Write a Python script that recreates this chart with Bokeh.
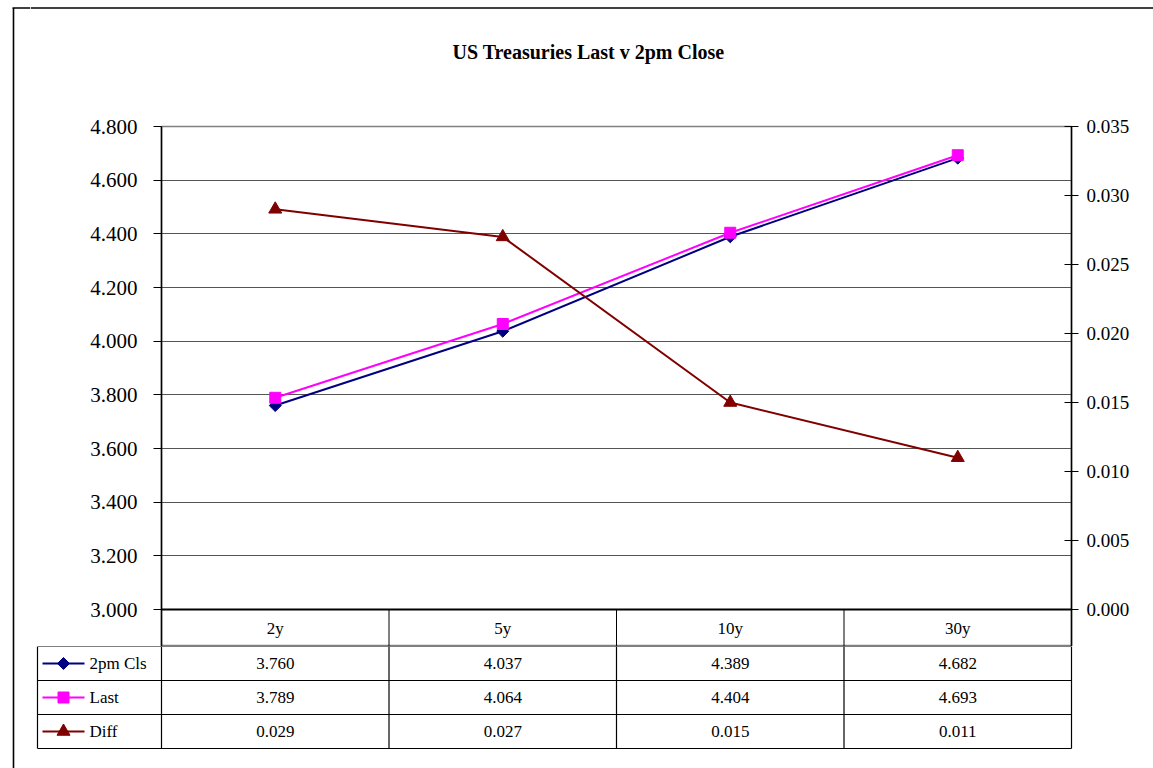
from bokeh.plotting import figure
from bokeh.layouts import column, row
from bokeh.models import Range1d, LinearAxis, FixedTicker, NumeralTickFormatter, Span
from bokeh.core.properties import value
from bokeh.embed import file_html
from bokeh.resources import INLINE
import math

# ---- data ----
tenors = ["2y", "5y", "10y", "30y"]
close_2pm = [3.760, 4.037, 4.389, 4.682]
last = [3.789, 4.064, 4.404, 4.693]
diff = [0.029, 0.027, 0.015, 0.011]
yield_ticks = [3.0, 3.2, 3.4, 3.6, 3.8, 4.0, 4.2, 4.4, 4.6, 4.8]
diff_ticks = [0.000, 0.005, 0.010, 0.015, 0.020, 0.025, 0.030, 0.035]
series_names = ["2pm Cls", "Last", "Diff"]
series_values = [close_2pm, last, diff]
series_colors = ["#000080", "#FF00FF", "#800000"]
series_markers = ["diamond", "square", "triangle"]

FONT = "Liberation Serif"

# ---- page geometry (pixels) ----
W, H = 1153, 768
HEAD_H = 100            # title band
STRIP_W = 30            # left strip carrying the outer frame line
PLOT_L, PLOT_R = 161, 1071
PLOT_T, PLOT_B = 126, 609
HDR_H = 37              # tenor header row under the plot
ROW_H = 34              # data table rows
TABLE_L = 37            # left edge of the legend column
FRAME_X = 13            # outer frame line
FRAME_Y = 7.5

n = len(tenors)
xs = [i + 0.5 for i in range(n)]
col_px = (PLOT_R - PLOT_L) / n


def blank(width, height, xr, yr, **kw):
    f = figure(width=width, height=height, x_range=xr, y_range=yr,
               x_axis_location=None, y_axis_location=None,
               toolbar_location=None, output_backend="svg", title=None,
               frame_align=False,
               min_border_left=kw.get("l", 0), min_border_right=kw.get("r", 0),
               min_border_top=kw.get("t", 0), min_border_bottom=kw.get("b", 0))
    f.grid.visible = False
    f.outline_line_color = None
    f.background_fill_color = "white"
    f.border_fill_color = "white"
    return f


def add_marker(fig, x, y, color, marker, **kw):
    if marker == "diamond":
        fig.scatter(x, y, marker="square", size=8.5, angle=math.pi / 4,
                    fill_color=color, line_color=color, **kw)
    elif marker == "square":
        fig.scatter(x, y, marker="square", size=11, fill_color=color, line_color=color, **kw)
    else:
        fig.scatter(x, y, marker="triangle", size=13, fill_color=color, line_color=color, **kw)


main_h = PLOT_B + HDR_H - HEAD_H
tab_h = H - HEAD_H - main_h

# ---- left strip: outer frame line down the full height ----
strip = blank(STRIP_W, H, Range1d(0, STRIP_W), Range1d(H, 0))
strip.segment(x0=[FRAME_X, FRAME_X - 1], y0=[FRAME_Y, FRAME_Y], x1=[FRAME_X, STRIP_W], y1=[H, FRAME_Y],
              line_color="black", line_width=1.6)

# ---- title band with the top frame line ----
head = blank(W - STRIP_W, HEAD_H, Range1d(STRIP_W, W), Range1d(HEAD_H, 0))
head.segment(x0=[STRIP_W], y0=[FRAME_Y], x1=[W], y1=[FRAME_Y], line_color="black", line_width=1.6)
head.text(x=[588], y=[51], text=["US Treasuries Last v 2pm Close"],
          text_align="center", text_baseline="middle",
          text_font=value(FONT), text_font_size="20px", text_font_style="bold", text_color="black")

# ---- main chart ----
lo, hi = yield_ticks[0], yield_ticks[-1]
ppu = (PLOT_B - PLOT_T) / (hi - lo)
y_start = lo - HDR_H / ppu
d_lo, d_hi = diff_ticks[0], diff_ticks[-1]
d_start = d_lo - HDR_H * (d_hi - d_lo) / (PLOT_B - PLOT_T)

p = figure(width=W - STRIP_W, height=main_h,
           x_range=Range1d(0, n), y_range=Range1d(y_start, hi),
           x_axis_location=None, y_axis_location="left",
           toolbar_location=None, output_backend="svg", title=None,
           frame_align=False,
           min_border_left=PLOT_L - STRIP_W, min_border_right=W - PLOT_R,
           min_border_top=PLOT_T - HEAD_H, min_border_bottom=0)
p.extra_y_ranges = {"diff": Range1d(d_start, d_hi)}
p.background_fill_color = "white"
p.border_fill_color = "white"
p.outline_line_color = "#808080"
p.outline_line_width = 1.5
p.xgrid.visible = False
p.ygrid.ticker = FixedTicker(ticks=yield_ticks[1:-1])
p.ygrid.grid_line_color = "#555555"
p.ygrid.grid_line_width = 1

ly = p.yaxis[0]
ly.ticker = FixedTicker(ticks=yield_ticks)
ly.formatter = NumeralTickFormatter(format="0.000")
ry = LinearAxis(y_range_name="diff", ticker=FixedTicker(ticks=diff_ticks),
                formatter=NumeralTickFormatter(format="0.000"))
p.add_layout(ry, "right")
for ax, size, tin, tout, standoff in ((ly, "21px", 0, 8, 16), (ry, "19px", 7, 7, 8)):
    ax.major_label_text_font = FONT
    ax.major_label_text_font_size = size
    ax.major_label_text_color = "black"
    ax.major_tick_in = tin
    ax.major_tick_out = tout
    ax.minor_tick_in = 0
    ax.minor_tick_out = 0
    ax.major_tick_line_color = "black"
    ax.axis_line_color = "black"
    ax.axis_line_width = 1.5
    ax.major_label_standoff = standoff

# category axis line along the bottom of the plot area
p.add_layout(Span(location=lo, dimension="width", line_color="black", line_width=2))

# tenor header row
seps = list(range(1, n))
p.segment(x0=seps, y0=[y_start] * len(seps), x1=seps, y1=[lo] * len(seps),
          line_color="black", line_width=1)
p.text(x=xs, y=[lo - HDR_H / 2 / ppu] * n, text=tenors, text_align="center",
       text_baseline="middle", text_font=value(FONT), text_font_size="17px", text_color="black")

# series
for vals, color, marker in zip(series_values, series_colors, series_markers):
    kw = {"y_range_name": "diff"} if vals is diff else {}
    p.line(xs, vals, line_color=color, line_width=2, **kw)
    add_marker(p, xs, vals, color, marker, **kw)

# ---- data table ----
leg_w = (PLOT_L - TABLE_L) / col_px
pad = 2
n_rows = len(series_names)
t = blank(W - STRIP_W, tab_h,
          Range1d(-leg_w - pad / col_px, n + pad / col_px),
          Range1d(-pad / ROW_H, n_rows),
          l=TABLE_L - STRIP_W - pad, r=W - PLOT_R - pad,
          t=0, b=tab_h - n_rows * ROW_H - pad)

hy = list(range(n_rows + 1))
t.segment(x0=[-leg_w] * len(hy), y0=hy, x1=[n] * len(hy), y1=hy, line_color="black", line_width=1.2)
vx = [-leg_w] + list(range(n + 1))
t.segment(x0=vx, y0=[0] * len(vx), x1=vx, y1=[n_rows] * len(vx), line_color="black", line_width=1.2)

for r, (name, vals, color, marker) in enumerate(zip(series_names, series_values, series_colors, series_markers)):
    yc = n_rows - r - 0.5
    t.text(x=xs, y=[yc] * n, text=[f"{v:.3f}" for v in vals], text_align="center",
           text_baseline="middle", text_font=value(FONT), text_font_size="17px", text_color="black")
    x0 = -leg_w + 5 / col_px
    x1 = -leg_w + 47 / col_px
    xm = -leg_w + 26 / col_px
    t.segment(x0=[x0], y0=[yc], x1=[x1], y1=[yc], line_color=color, line_width=2)
    add_marker(t, [xm], [yc], color, marker)
    t.text(x=[-leg_w + 52 / col_px], y=[yc], text=[name], text_align="left", text_baseline="middle",
           text_font=value(FONT), text_font_size="17px", text_color="black")

layout = row(strip, column(head, p, t))

with open("out.html", "w") as fh:
    fh.write(file_html(layout, INLINE))
